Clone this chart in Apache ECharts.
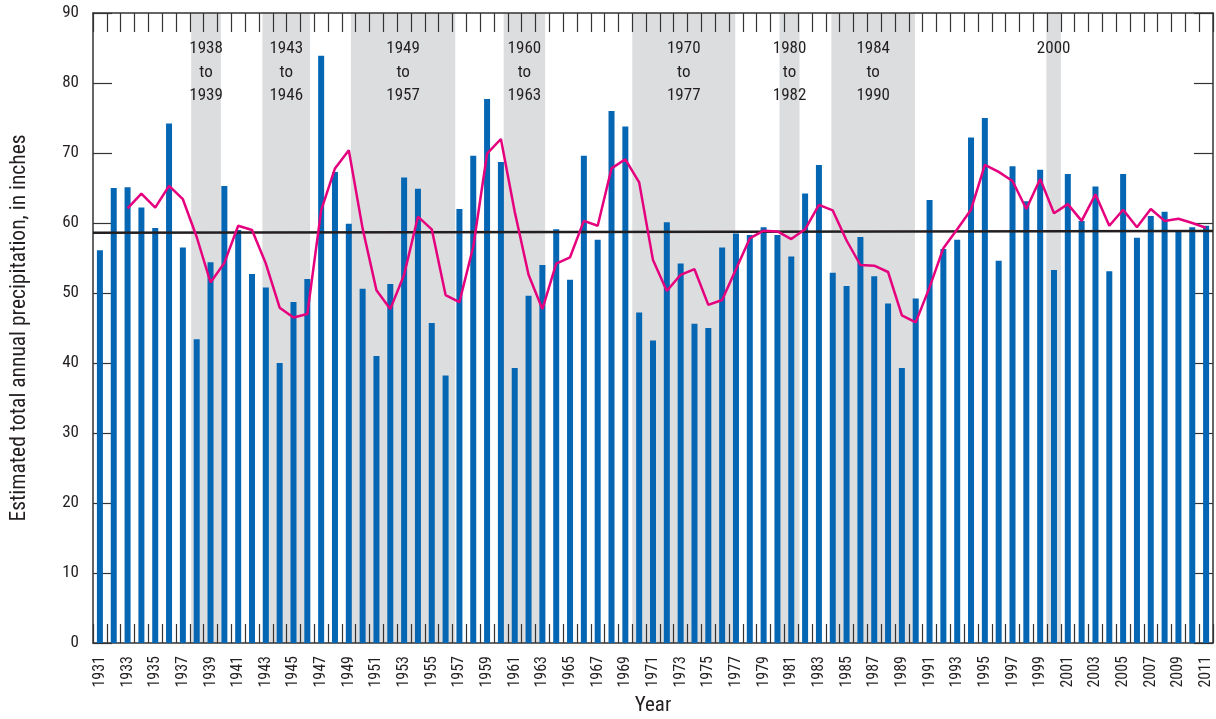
<!DOCTYPE html>
<html>
<head>
<meta charset="utf-8">
<script src="https://cdn.jsdelivr.net/npm/echarts@6/dist/echarts.min.js"></script>
<style>
  html, body { margin: 0; padding: 0; background: #fff; }
  #chart { width: 1216px; height: 719px; }
</style>
</head>
<body>
<div id="chart"></div>
<script>
// years 1931-2011
var years = [];
for (var y = 1931; y <= 2011; y++) years.push(String(y));

// estimated total annual precipitation, inches
var precip = [
  56.1, 65.0, 65.1, 62.2, 59.3, 74.2, 56.5, 43.4, 54.4, 65.3,
  59.0, 52.7, 50.8, 40.0, 48.7, 52.0, 83.9, 67.3, 59.9, 50.6,
  41.0, 51.3, 66.5, 64.9, 45.7, 38.2, 62.0, 69.6, 77.7, 68.7,
  39.3, 49.6, 54.0, 59.1, 51.9, 69.6, 57.6, 76.0, 73.8, 47.2,
  43.2, 60.1, 54.2, 45.6, 45.0, 56.5, 58.5, 58.3, 59.4, 58.3,
  55.2, 64.2, 68.3, 52.9, 51.0, 58.0, 52.4, 48.5, 39.3, 49.2,
  63.3, 56.3, 57.6, 72.2, 75.0, 54.6, 68.1, 63.1, 67.6, 53.3,
  67.0, 60.3, 65.2, 53.1, 67.0, 57.9, 61.0, 61.6, 59.0, 59.4,
  59.6
];

// pink curve, starts in 1933
var movingAvg = [
  '-', '-', 62.1, 64.2, 62.2, 65.3, 63.4, 58.0, 51.5, 54.3,
  59.6, 59.0, 54.2, 47.9, 46.5, 47.0, 61.8, 67.8, 70.4, 59.2,
  50.4, 47.7, 52.6, 60.9, 59.1, 49.7, 48.7, 56.6, 69.9, 72.0,
  61.6, 52.6, 47.7, 54.2, 55.1, 60.3, 59.6, 67.8, 69.1, 65.8,
  54.7, 50.3, 52.6, 53.4, 48.3, 49.0, 53.4, 57.8, 58.9, 58.8,
  57.7, 59.1, 62.6, 61.8, 57.5, 54.0, 53.9, 53.0, 46.8, 45.8,
  50.8, 56.4, 59.1, 61.9, 68.3, 67.3, 66.0, 62.0, 66.3, 61.4,
  62.7, 60.3, 64.1, 59.6, 61.9, 59.4, 62.0, 60.3, 60.6, 60.0,
  59.3
];

// black straight line across the chart
var trendYears = [1930.5, 2011.5];
var trendValues = [58.6, 58.85];

// gray periods
var droughtStart = [1937.6, 1942.75, 1949.15, 1960.2, 1969.5, 1980.15, 1983.9, 1999.45];
var droughtEnd = [1939.75, 1946.2, 1956.7, 1963.2, 1976.95, 1981.6, 1989.95, 2000.5];
var droughtLabels = ['1938\nto\n1939', '1943\nto\n1946', '1949\nto\n1957', '1960\nto\n1963',
  '1970\nto\n1977', '1980\nto\n1982', '1984\nto\n1990', '2000'];

var yTicks = [0, 10, 20, 30, 40, 50, 60, 70, 80, 90];

var font = "'Roboto Condensed', 'Liberation Sans Narrow', sans-serif";
var ink = '#231f20';
var axisInk = '#333';

var chart = echarts.init(document.getElementById('chart'));

var option = {
  animation: false,
  textStyle: { fontFamily: font, color: ink },
  grid: { left: 93, right: 3, top: 13, bottom: 76, containLabel: false, outerBoundsMode: 'none' },
  xAxis: [
    {
      type: 'category',
      position: 'bottom',
      data: years,
      name: 'Year',
      nameLocation: 'middle',
      nameGap: 52,
      nameTextStyle: { fontSize: 21, color: ink, fontFamily: font },
      axisLine: { show: true, onZero: false, lineStyle: { color: axisInk, width: 1.5 } },
      axisTick: { show: true, inside: true, length: 19, interval: 0, lineStyle: { color: axisInk, width: 1.2 } },
      axisLabel: { show: true, rotate: 90, interval: 1, margin: 13, fontSize: 16, color: ink, fontFamily: font },
      splitLine: { show: false }
    },
    {
      type: 'category',
      position: 'top',
      data: years,
      axisLine: { show: true, onZero: false, lineStyle: { color: axisInk, width: 1.5 } },
      axisTick: { show: true, inside: true, length: 19, interval: 0, lineStyle: { color: axisInk, width: 1.2 } },
      axisLabel: { show: false },
      splitLine: { show: false }
    },
    {
      type: 'value',
      min: trendYears[0],
      max: trendYears[1],
      show: false
    }
  ],
  yAxis: [
    {
      type: 'value',
      min: yTicks[0],
      max: yTicks[yTicks.length - 1],
      interval: 10,
      name: 'Estimated total annual precipitation, in inches',
      nameLocation: 'middle',
      nameGap: 62,
      nameTextStyle: { fontSize: 21.5, color: ink, fontFamily: font },
      axisLine: { show: true, onZero: false, lineStyle: { color: axisInk, width: 1.5 } },
      axisTick: { show: true, inside: true, length: 19, lineStyle: { color: axisInk, width: 1.2 } },
      axisLabel: { margin: 14, fontSize: 17, color: ink, fontFamily: font },
      splitLine: { show: false }
    },
    {
      type: 'value',
      position: 'right',
      min: yTicks[0],
      max: yTicks[yTicks.length - 1],
      interval: 10,
      axisLine: { show: true, onZero: false, lineStyle: { color: axisInk, width: 1.5 } },
      axisTick: { show: true, inside: true, length: 19, lineStyle: { color: axisInk, width: 1.2 } },
      axisLabel: { show: false },
      splitLine: { show: false }
    }
  ],
  series: [
    {
      type: 'custom',
      xAxisIndex: 2,
      yAxisIndex: 0,
      z: 0,
      silent: true,
      data: droughtStart.map(function (s, i) { return [s, droughtEnd[i]]; }),
      renderItem: function (params, api) {
        var p0 = api.coord([api.value(0), yTicks[yTicks.length - 1]]);
        var p1 = api.coord([api.value(1), yTicks[0]]);
        var mid = (p0[0] + p1[0]) / 2;
        return {
          type: 'group',
          children: [
            {
              type: 'rect',
              shape: { x: p0[0], y: p0[1], width: p1[0] - p0[0], height: p1[1] - p0[1] },
              style: { fill: '#dcddde' }
            },
            {
              type: 'text',
              x: mid,
              y: p0[1] + 24,
              style: {
                text: droughtLabels[params.dataIndex],
                align: 'center',
                verticalAlign: 'top',
                fontSize: 17,
                lineHeight: 23.5,
                fontFamily: font,
                fill: ink
              }
            }
          ]
        };
      }
    },
    {
      name: 'Precipitation',
      type: 'bar',
      xAxisIndex: 0,
      yAxisIndex: 0,
      z: 2,
      barWidth: 6,
      itemStyle: { color: '#0567b3' },
      data: precip
    },
    {
      name: 'Trend',
      type: 'line',
      xAxisIndex: 2,
      yAxisIndex: 0,
      z: 3,
      symbol: 'none',
      lineStyle: { color: ink, width: 2.5 },
      data: trendYears.map(function (t, i) { return [t, trendValues[i]]; })
    },
    {
      name: 'Moving average',
      type: 'line',
      xAxisIndex: 1,
      yAxisIndex: 1,
      z: 4,
      symbol: 'none',
      connectNulls: false,
      lineStyle: { color: '#e5007e', width: 2.5 },
      data: movingAvg
    }
  ]
};

chart.setOption(option);
</script>
</body>
</html>
